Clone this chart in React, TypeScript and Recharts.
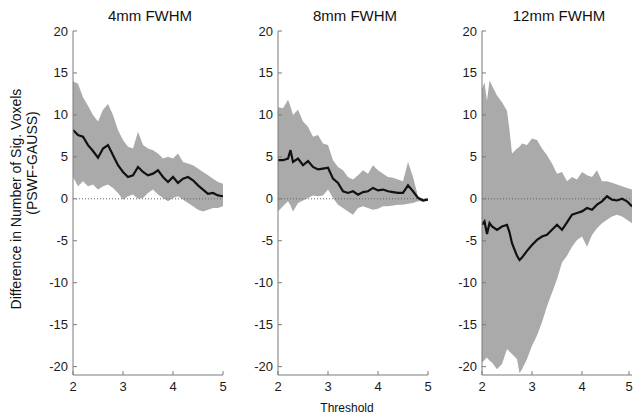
import React from 'react';
import { Area, ComposedChart, Line, ReferenceLine, XAxis, YAxis } from 'recharts';

// Three panels: mean difference (PSWF - GAUSS) with a shaded spread band.

const FONT = '"Liberation Sans", Arial, sans-serif';
const AXIS = '#7a7a7a';
const BAND = '#aaaaaa';

const yTicks = [-20, -15, -10, -5, 0, 5, 10, 15, 20];
const xTicks = [2, 3, 4, 5];

const titles = ['4mm FWHM', '8mm FWHM', '12mm FWHM'];

// 4mm
const thresholds4 = [2.0, 2.1, 2.2, 2.3, 2.4, 2.5, 2.6, 2.7, 2.8, 2.9, 3.0, 3.1, 3.2, 3.3, 3.4, 3.5, 3.6, 3.7, 3.8, 3.9, 4.0, 4.1, 4.2, 4.3, 4.4, 4.5, 4.6, 4.7, 4.8, 4.9, 5.0];
const mean4 = [8.2, 7.6, 7.4, 6.4, 5.7, 4.9, 6.0, 6.4, 5.2, 4.0, 3.2, 2.6, 2.8, 3.8, 3.2, 2.8, 3.0, 3.4, 2.6, 2.0, 2.6, 1.9, 2.4, 2.6, 2.2, 1.6, 1.1, 0.6, 0.7, 0.4, 0.3];
const upper4 = [14.0, 13.7, 12.1, 11.1, 10.0, 9.2, 10.6, 11.3, 10.0, 8.2, 7.0, 6.2, 6.0, 8.0, 6.4, 6.0, 5.8, 5.4, 4.8, 5.0, 4.8, 5.4, 4.4, 4.2, 4.0, 3.6, 3.2, 2.8, 2.4, 2.0, 1.8];
const lower4 = [2.6, 1.5, 2.1, 1.5, 1.7, 1.1, 1.5, 1.7, 1.3, 0.7, -0.1, 0.3, 0.5, 0.0, 0.1, 0.7, 1.1, 0.5, 0.1, -0.3, 0.1, 0.3, -0.1, -0.5, -0.9, -1.3, -1.5, -1.3, -1.1, -1.1, -0.9];

// 8mm
const thresholds8 = [2.0, 2.1, 2.2, 2.25, 2.3, 2.4, 2.5, 2.6, 2.7, 2.8, 2.9, 3.0, 3.1, 3.2, 3.3, 3.4, 3.5, 3.6, 3.7, 3.8, 3.9, 4.0, 4.1, 4.2, 4.3, 4.4, 4.5, 4.6, 4.7, 4.8, 4.9, 5.0];
const mean8 = [4.6, 4.6, 4.8, 5.8, 4.4, 4.8, 4.0, 4.5, 3.8, 3.5, 3.6, 3.7, 2.4, 1.9, 0.9, 0.7, 0.9, 0.5, 0.8, 0.9, 1.3, 1.0, 1.1, 0.9, 0.8, 0.7, 0.7, 1.6, 0.9, 0.1, -0.2, -0.1];
const upper8 = [10.9, 10.8, 11.8, 11.0, 10.0, 10.6, 9.2, 8.6, 7.4, 7.6, 6.6, 6.4, 4.6, 3.8, 3.4, 2.6, 2.3, 2.8, 3.4, 3.0, 4.0, 3.4, 3.0, 2.6, 2.5, 2.3, 2.1, 4.4, 2.6, 0.3, 0.0, 0.1];
const lower8 = [-1.5, -0.9, -0.3, -0.8, -1.5, -0.5, -0.2, 0.1, 0.4, 0.3, 0.4, 1.1, 0.1, -0.7, -1.1, -1.5, -1.9, -1.1, -0.9, -1.1, -1.3, -1.2, -0.9, -0.9, -0.8, -0.7, -0.7, -0.6, -0.5, -0.3, -0.3, -0.2];

// 12mm
const thresholds12 = [2.0, 2.05, 2.1, 2.15, 2.2, 2.3, 2.4, 2.5, 2.55, 2.6, 2.7, 2.75, 2.8, 2.9, 3.0, 3.1, 3.2, 3.3, 3.4, 3.5, 3.6, 3.7, 3.8, 3.9, 4.0, 4.1, 4.2, 4.3, 4.4, 4.5, 4.6, 4.7, 4.8, 4.9, 5.0];
const mean12 = [-3.1, -2.7, -4.2, -2.9, -3.3, -3.7, -3.3, -3.1, -4.0, -5.3, -6.8, -7.3, -7.0, -6.2, -5.5, -4.9, -4.5, -4.3, -3.7, -3.1, -3.7, -2.8, -1.9, -1.7, -1.5, -1.1, -1.3, -0.7, -0.3, 0.3, -0.1, -0.2, 0.0, -0.3, -0.9];
const upper12 = [13.1, 13.9, 11.7, 14.1, 13.5, 12.3, 11.5, 10.5, 8.2, 5.4, 6.0, 6.2, 6.6, 6.4, 7.2, 7.0, 6.0, 5.2, 4.2, 3.0, 3.2, 2.1, 2.6, 2.3, 3.2, 2.8, 2.6, 3.4, 2.1, 2.1, 1.9, 1.7, 1.5, 1.3, 1.1];
const lower12 = [-19.5, -19.2, -18.9, -19.3, -19.5, -20.3, -19.7, -17.9, -18.2, -18.5, -19.1, -20.8, -20.3, -19.1, -17.5, -16.3, -14.7, -12.8, -11.2, -9.6, -7.6, -6.8, -5.7, -4.9, -4.5, -5.7, -4.3, -3.5, -2.9, -2.5, -2.1, -1.9, -2.1, -2.5, -2.9];

function makeRows(xs: number[], mean: number[], lo: number[], hi: number[]) {
  return xs.map((t, i) => ({ t, mean: mean[i], band: [lo[i], hi[i]] }));
}

const TICK_MARGIN = 5;

const YTick = (props: any) => {
  const { x, y, payload } = props;
  const ax = x + TICK_MARGIN;
  return (
    <g>
      <line x1={ax} x2={ax + 4} y1={y} y2={y} stroke={AXIS} />
      <text x={x} y={y} dy={4.5} textAnchor="end" fontSize={13} fontFamily={FONT} fill="#1a1a1a">
        {payload.value}
      </text>
    </g>
  );
};

const XTick = (props: any) => {
  const { x, y, payload } = props;
  const ay = y - TICK_MARGIN;
  return (
    <g>
      <line x1={x} x2={x} y1={ay} y2={ay - 4} stroke={AXIS} />
      <text x={x} y={y} dy={11} textAnchor="middle" fontSize={13} fontFamily={FONT} fill="#1a1a1a">
        {payload.value}
      </text>
    </g>
  );
};

interface PanelProps {
  rows: { t: number; mean: number; band: number[] }[];
  left: number;
  width: number;
  yAxisWidth: number;
  marginRight: number;
}

function Panel({ rows, left, width, yAxisWidth, marginRight }: PanelProps) {
  return (
    <div style={{ position: 'absolute', left, top: 0 }}>
      <ComposedChart
        width={width}
        height={418}
        data={rows}
        margin={{ top: 31, right: marginRight, bottom: 13, left: 0 }}
      >
        <XAxis
          dataKey="t"
          type="number"
          domain={[2, 5]}
          ticks={xTicks}
          height={30}
          tickSize={0}
          tickMargin={TICK_MARGIN}
          tickLine={false}
          tick={<XTick />}
          axisLine={{ stroke: AXIS }}
          allowDataOverflow
        />
        <YAxis
          type="number"
          domain={[-21, 20]}
          ticks={yTicks}
          width={yAxisWidth}
          tickSize={0}
          tickMargin={TICK_MARGIN}
          tickLine={false}
          tick={<YTick />}
          axisLine={{ stroke: AXIS }}
          interval={0}
          allowDataOverflow
        />
        <Area
          dataKey="band"
          type="linear"
          stroke="none"
          fill={BAND}
          fillOpacity={1}
          isAnimationActive={false}
        />
        <ReferenceLine y={0} stroke="#666" strokeDasharray="1 2" />
        <Line
          dataKey="mean"
          type="linear"
          stroke="#111"
          strokeWidth={2.2}
          dot={false}
          isAnimationActive={false}
        />
      </ComposedChart>
    </div>
  );
}

export default function App() {
  const panels = [
    { rows: makeRows(thresholds4, mean4, lower4, upper4), left: 0, width: 233, yAxisWidth: 73, marginRight: 10 },
    { rows: makeRows(thresholds8, mean8, lower8, upper8), left: 210, width: 228, yAxisWidth: 68, marginRight: 10 },
    { rows: makeRows(thresholds12, mean12, lower12, upper12), left: 414, width: 219, yAxisWidth: 68, marginRight: 1 },
  ];
  const titleX = [150, 355, 559];

  return (
    <div style={{ position: 'absolute', left: 0, top: 0, width: 633, height: 418, background: '#fff', overflow: 'hidden' }}>
      {panels.map((p, i) => (
        <Panel key={i} {...p} />
      ))}
      <svg width={633} height={418} style={{ position: 'absolute', left: 0, top: 0, pointerEvents: 'none' }}>
        {titles.map((t, i) => (
          <text key={t} x={titleX[i]} y={21} textAnchor="middle" fontSize={15} fontFamily={FONT} fill="#111">
            {t}
          </text>
        ))}
        <g fontFamily={FONT} fontSize={14} fill="#111" textAnchor="middle">
          <text transform="translate(21,199) rotate(-90)">Difference in Number of Sig. Voxels</text>
          <text transform="translate(37,163) rotate(-90)">(PSWF-GAUSS)</text>
        </g>
        <text x={347} y={412} textAnchor="middle" fontSize={12} fontFamily={FONT} fill="#111">
          Threshold
        </text>
      </svg>
    </div>
  );
}
